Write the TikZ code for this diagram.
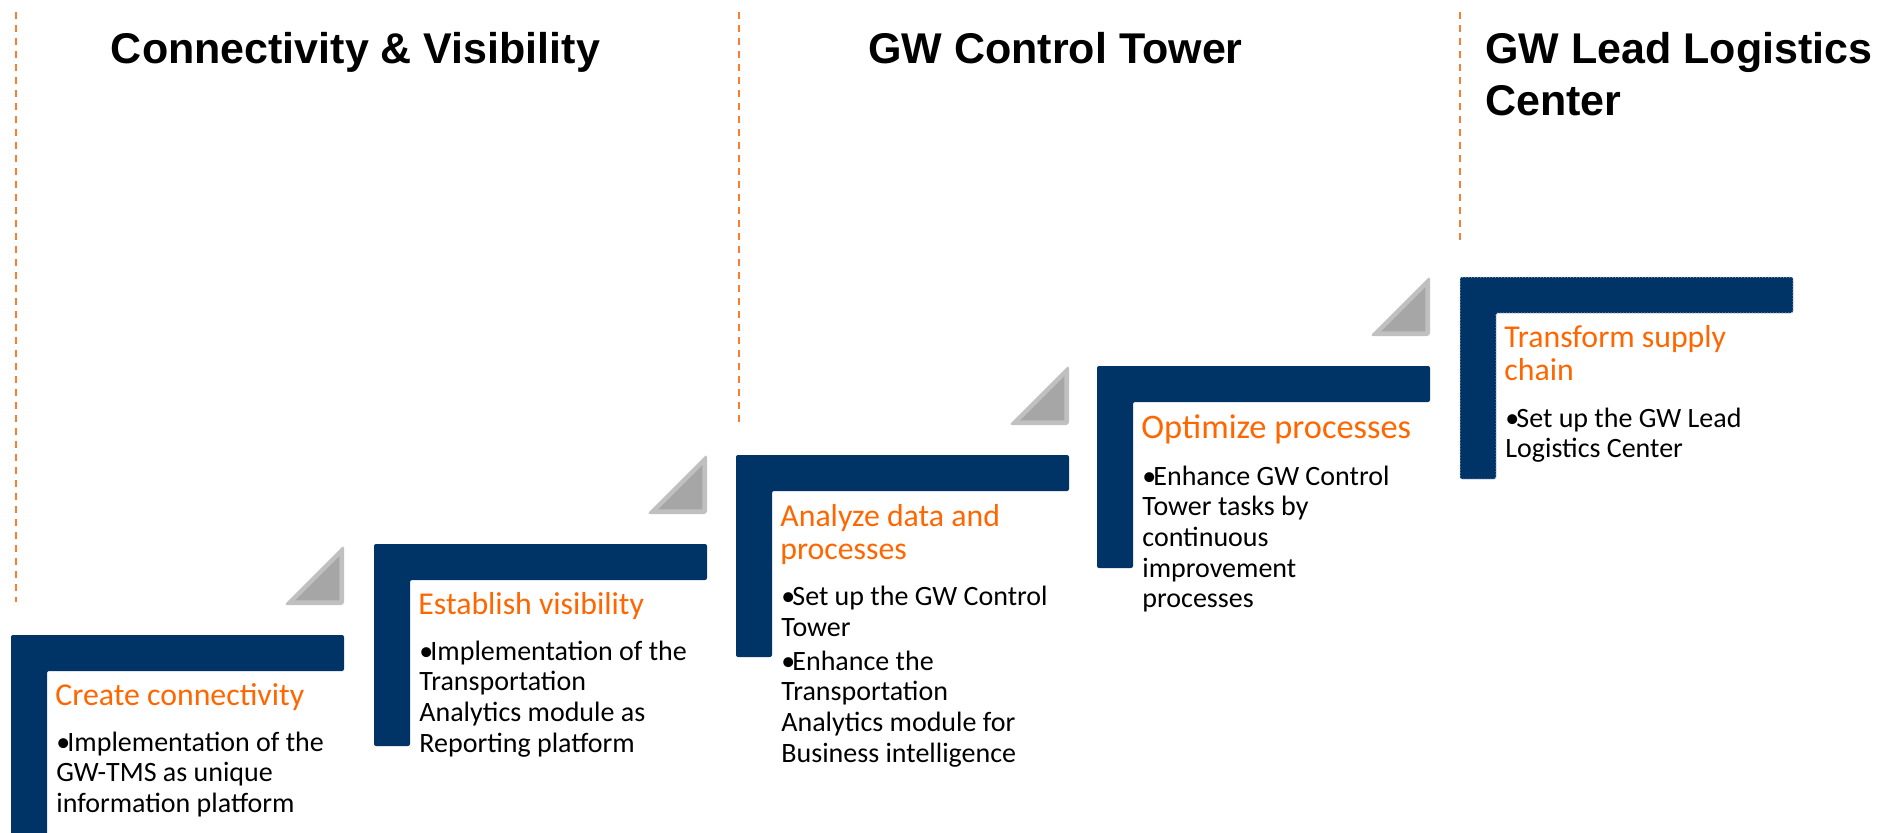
\documentclass[tikz,border=0pt]{standalone}
\usepackage{fontspec}
\setmainfont{Carlito}
\newfontfamily\titlefont{Liberation Sans}
\definecolor{navy}{RGB}{0,51,102}
\definecolor{orng}{RGB}{255,102,0}
\definecolor{dashorng}{RGB}{250,125,50}
\definecolor{trifill}{RGB}{166,166,166}
\definecolor{triedge}{RGB}{192,192,192}
\definecolor{selbord}{RGB}{190,200,215}
\newcommand\stepL[3][]{\fill[lshape,#1] (#2,#3) -- ++(333,0) -- ++(0,36) -- ++(-297,0) -- ++(0,166) -- ++(-36,0) -- cycle;}
\newcommand\stepTri[2]{%
  \fill[triout] ({#1+273},{#2-30}) -- ({#1+333},{#2-90}) -- ({#1+333},{#2-30}) -- cycle;
  \fill[triin] ({#1+284.3},{#2-34.7}) -- ({#1+328.3},{#2-78.7}) -- ({#1+328.3},{#2-34.7}) -- cycle;}
\newcommand\headtxt[2][15.9]{\parbox[t]{190pt}{\fontsize{#1}{16.5}\selectfont\raggedright #2}}
\newcommand\bodytxt[1]{\parbox[t]{170pt}{\fontsize{14}{15.35}\selectfont\raggedright #1}}
\newcommand\bul{\hangindent=5.5pt\hangafter=1\makebox[5.5pt][l]{•}}
\tikzset{
  lshape/.style={fill=navy, rounded corners=1pt},
  triout/.style={fill=triedge, rounded corners=1.5pt},
  triin/.style={fill=trifill},
  phaseline/.style={draw=dashorng, line width=1pt, dash pattern=on 3.5pt off 3pt},
  titletxt/.style={font=\titlefont\bfseries\fontsize{21.5}{26}\selectfont, inner sep=0},
  headnode/.style={anchor=base west, inner sep=0, text=orng},
  bodynode/.style={anchor=base west, inner sep=0, text=black},
}
\begin{document}
\begin{tikzpicture}[x=0.5pt, y=-0.5pt]
\useasboundingbox (0,0) rectangle (1892,832);
% phase separators
\coordinate (d1a) at (15.7,12); \coordinate (d1b) at (15.7,602);
\coordinate (d2a) at (739,12);  \coordinate (d2b) at (739,427);
\coordinate (d3a) at (1460,12); \coordinate (d3b) at (1460,243);
\draw[phaseline] (d1a) -- (d1b);
\draw[phaseline] (d2a) -- (d2b);
\draw[phaseline] (d3a) -- (d3b);
% titles
\node[titletxt, anchor=base] (t1) at (355.5,63) {Connectivity \& Visibility};
\node[titletxt, anchor=base] (t2) at (1055.5,63) {GW Control Tower};
\node[titletxt, anchor=base west] (t3) at (1485,63) {\parbox[t]{300pt}{\fontsize{21.5}{26}\selectfont GW Lead Logistics\\Center}};
% steps
\stepL{11}{635}
\stepTri{11}{635}
\stepL{374}{544}
\stepTri{374}{544}
\stepL{736}{455}
\stepTri{736}{455}
\stepL{1097}{366}
\stepTri{1097}{366}
\stepL[draw=selbord, line width=0.5pt, densely dotted]{1460}{277}
% texts
\node[headnode] (h1) at (55,705) {\headtxt{Create connectivity}};
\node[bodynode] (b1) at (56,751) {\bodytxt{\bul Implementation of the\\GW-TMS as unique\\information platform}};
\node[headnode] (h2) at (418,614) {\headtxt{Establish visibility}};
\node[bodynode] (b2) at (419,660) {\bodytxt{\bul Implementation of the\\Transportation\\Analytics module as\\Reporting platform}};
\node[headnode] (h3) at (780,526) {\headtxt{Analyze data and\\processes}};
\node[bodynode] (b3) at (781,605.5) {\bodytxt{\bul Set up the GW Control\\Tower\par\vspace{1.65pt}\bul Enhance the\\Transportation\\Analytics module for\\Business intelligence}};
\node[headnode] (h4) at (1141,438) {\headtxt[17.2]{Optimize processes}};
\node[bodynode] (b4) at (1142,485) {\bodytxt{\bul Enhance GW Control\\Tower tasks by\\continuous\\improvement\\processes}};
\node[headnode] (h5) at (1504,347) {\headtxt{Transform supply\\chain}};
\node[bodynode] (b5) at (1505,427) {\bodytxt{\bul Set up the GW Lead\\Logistics Center}};
\end{tikzpicture}
\end{document}
